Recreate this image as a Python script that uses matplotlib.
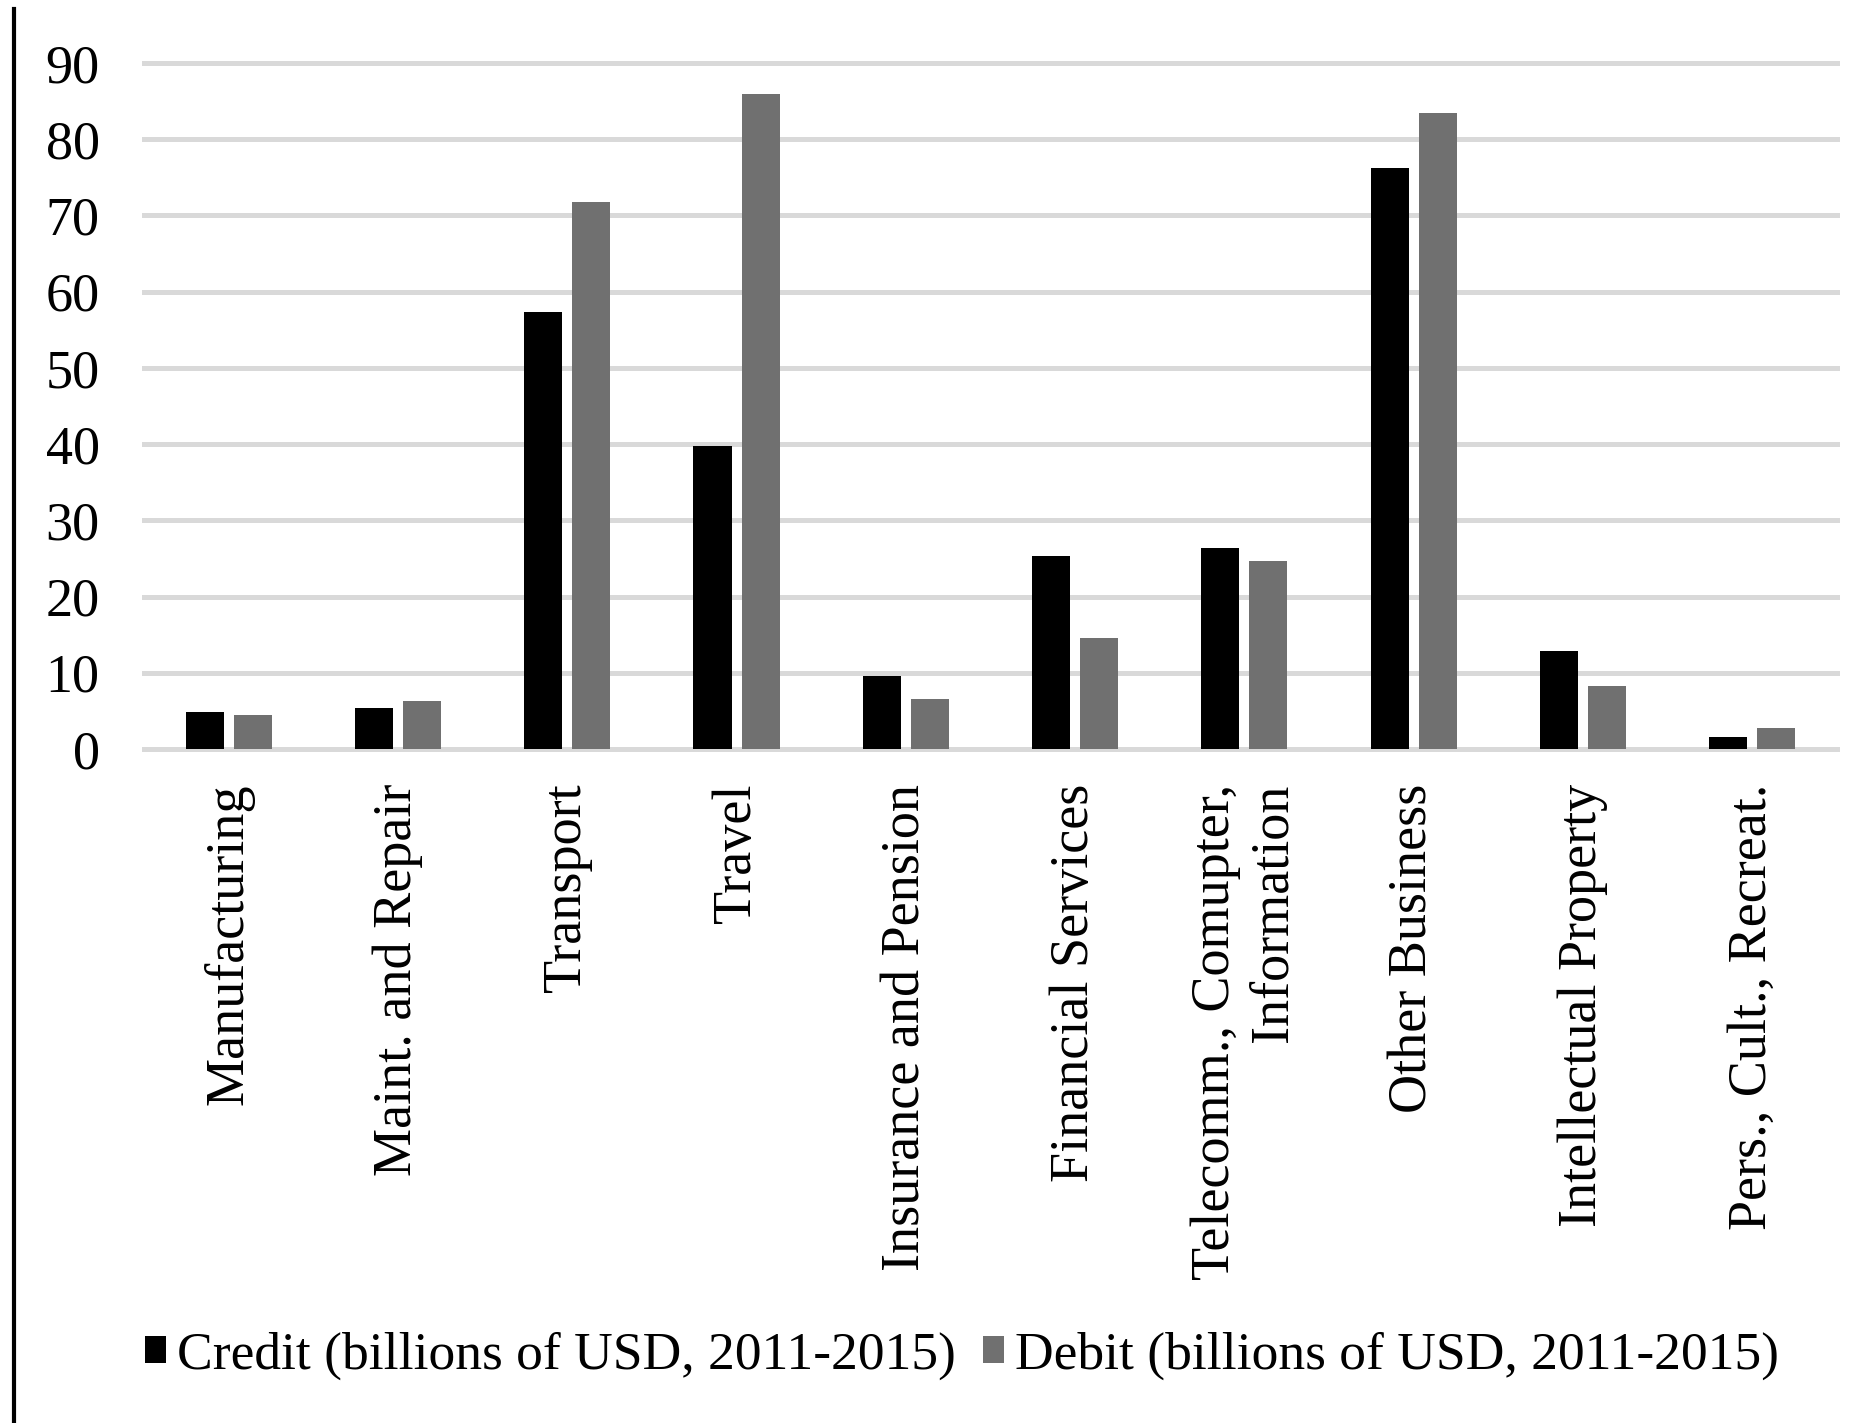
import numpy as np
import matplotlib.pyplot as plt
from matplotlib.lines import Line2D

categories = ["Manufacturing", "Maint. and Repair", "Transport", "Travel",
              "Insurance and Pension", "Financial Services",
              "Telecomm., Comupter,\nInformation", "Other Business",
              "Intellectual Property", "Pers., Cult., Recreat."]
credit = [4.9, 5.4, 57.3, 39.7, 9.6, 25.3, 26.4, 76.2, 12.8, 1.5]
debit = [4.5, 6.3, 71.8, 86.0, 6.5, 14.5, 24.7, 83.4, 8.2, 2.8]
yticks = [0, 10, 20, 30, 40, 50, 60, 70, 80, 90]

plt.rcParams['font.family'] = ['Liberation Serif', 'DejaVu Serif']

fig = plt.figure(figsize=(18.75, 14.23), dpi=100)
ax = fig.add_axes([0.0768, 0.4737, 0.9029, 0.482])

x = np.arange(len(categories))
w = 0.225
ax.bar(x - 0.142, credit, w, color='black', label='Credit (billions of USD, 2011-2015)', zorder=3)
ax.bar(x + 0.142, debit, w, color='#707070', label='Debit (billions of USD, 2011-2015)', zorder=3)

ax.set_xlim(-0.5, len(categories) - 0.5)
ax.set_ylim(0, 90)
ax.set_yticks(yticks)
ax.set_xticks(x)
ax.set_xticklabels(categories, rotation=90, ha='center', va='top', multialignment='right')
ax.tick_params(axis='both', length=0, labelsize=39)
ax.tick_params(axis='x', pad=25)
ax.tick_params(axis='y', pad=32)
for s in ax.spines.values():
    s.set_visible(False)
ax.yaxis.grid(True, color='#d9d9d9', linewidth=3.6, zorder=0)
for gl in ax.get_ygridlines():
    gl.set_clip_on(False)
ax.set_axisbelow(True)

fig.legend(loc='center', bbox_to_anchor=(0.513, 0.0475), ncol=2, frameon=False,
           fontsize=38.5, handlelength=0.4, handleheight=0.4, handletextpad=0.2,
           columnspacing=0.5)

# black vertical rule at the left edge
fig.add_artist(Line2D([0.0075, 0.0075], [0.0, 0.9937], color='black', linewidth=3,
                      transform=fig.transFigure))

fig.savefig("out.png", dpi=100)
